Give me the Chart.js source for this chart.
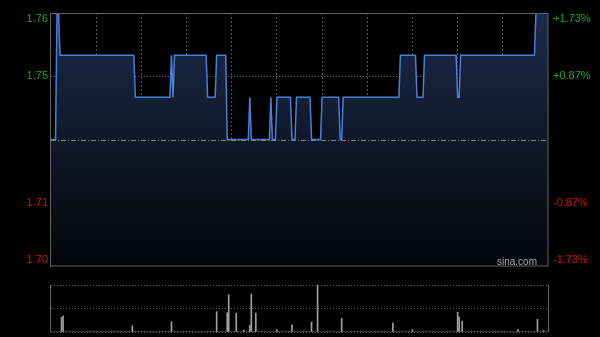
<!DOCTYPE html>
<html>
<head>
<meta charset="utf-8">
<script src="https://cdn.jsdelivr.net/npm/chart.js@4.4.0/dist/chart.umd.min.js"></script>
<style>
  html, body { margin: 0; padding: 0; background: #000; }
  #wrap { position: relative; width: 600px; height: 337px; overflow: hidden; background: #000; }
  #priceChart { position: absolute; left: 0; top: 0; }
  #volChart { position: absolute; left: 0; top: 275px; }
</style>
</head>
<body>
<div id="wrap">
  <canvas id="priceChart" width="600" height="275"></canvas>
  <canvas id="volChart" width="600" height="62"></canvas>
</div>
<script>
// intraday price, one point per minute (9:30-12:00, 13:00-16:00)
const price = [
  1.73,1.73,1.73,1.73,1.76,1.76,
  1.75,1.75,1.75,1.75,1.75,1.75,1.75,1.75,1.75,1.75,
  1.75,1.75,1.75,1.75,1.75,1.75,1.75,1.75,1.75,1.75,
  1.75,1.75,1.75,1.75,1.75,1.75,1.75,1.75,1.75,1.75,
  1.75,1.75,1.75,1.75,1.75,1.75,1.75,1.75,1.75,1.75,
  1.75,1.75,1.75,1.75,1.75,1.75,1.75,1.75,1.75,1.75,
  1.74,1.74,1.74,1.74,1.74,1.74,1.74,1.74,1.74,1.74,
  1.74,1.74,1.74,1.74,1.74,1.74,1.74,1.74,1.74,1.74,
  1.74,1.74,1.74,1.74,1.75,1.74,
  1.75,1.75,1.75,1.75,1.75,1.75,1.75,1.75,1.75,1.75,
  1.75,1.75,1.75,1.75,1.75,1.75,1.75,1.75,1.75,1.75,
  1.75,1.75,1.74,1.74,1.74,1.74,1.74,1.74,
  1.75,1.75,1.75,1.75,1.75,1.75,1.75,
  1.73,1.73,1.73,1.73,1.73,1.73,1.73,1.73,1.73,1.73,
  1.73,1.73,1.73,1.73,1.73,1.74,
  1.73,1.73,1.73,1.73,1.73,1.73,1.73,1.73,1.73,1.73,
  1.73,1.73,1.73,1.74,1.73,1.73,1.73,
  1.74,1.74,1.74,1.74,1.74,1.74,1.74,1.74,1.74,1.74,
  1.73,1.73,1.73,
  1.74,1.74,1.74,1.74,1.74,1.74,1.74,1.74,1.74,1.74,
  1.73,1.73,1.73,1.73,1.73,1.73,1.73,
  1.74,1.74,1.74,1.74,1.74,1.74,1.74,1.74,1.74,1.74,
  1.74,1.74,1.73,1.73,
  1.74,1.74,1.74,1.74,1.74,1.74,1.74,1.74,1.74,1.74,
  1.74,1.74,1.74,1.74,1.74,1.74,1.74,1.74,1.74,1.74,
  1.74,1.74,1.74,1.74,1.74,1.74,1.74,1.74,1.74,1.74,
  1.74,1.74,1.74,1.74,1.74,1.74,1.74,1.74,
  1.75,1.75,1.75,1.75,1.75,1.75,1.75,1.75,1.75,1.75,
  1.75,1.74,1.74,1.74,1.74,1.74,
  1.75,1.75,1.75,1.75,1.75,1.75,1.75,1.75,1.75,1.75,
  1.75,1.75,1.75,1.75,1.75,1.75,1.75,1.75,1.75,1.75,
  1.75,1.75,1.74,1.74,
  1.75,1.75,1.75,1.75,1.75,1.75,1.75,1.75,1.75,1.75,
  1.75,1.75,1.75,1.75,1.75,1.75,1.75,1.75,1.75,1.75,
  1.75,1.75,1.75,1.75,1.75,1.75,1.75,1.75,1.75,1.75,
  1.75,1.75,1.75,1.75,1.75,1.75,1.75,1.75,1.75,1.75,
  1.75,1.75,1.75,1.75,1.75,1.75,1.75,1.75,1.75,1.75,
  1.76,1.76,1.76,1.76,1.76,1.76,1.76,1.76,1.76
];
const prevClose = 1.73;
const yTicks = [1.70, 1.715, 1.73, 1.745, 1.76];
const leftLabels = ['1.70', '1.71', '', '1.75', '1.76'];
const rightLabels = ['-1.73%', '-0.87%', '', '+0.87%', '+1.73%'];
const gridMinutes = [0, 30, 60, 90, 120, 150, 180, 210, 240, 270, 300, 330];

// volume: only the minutes with a visible bar
const volMinute = [7, 8, 54, 80, 110, 117, 118, 123, 128, 132, 133, 136, 150, 160, 173, 177, 193, 227, 240, 270, 271, 273, 310, 323, 327];
const volAmount = [31, 34, 13, 22, 43, 41, 79, 40, 4, 14, 81, 40, 5, 15, 21, 100, 29, 19, 5, 42, 32, 23, 5, 27, 3];

const minutes = price.map((_, i) => i);
const volume = minutes.map(() => 0);
volMinute.forEach((m, k) => { volume[m] = volAmount[k]; });

const FONT = '11px "Liberation Sans", Arial, sans-serif';

const priceDecor = {
  id: 'priceDecor',
  afterDatasetsDraw(chart) {
    const { ctx, chartArea: a, scales: { y } } = chart;
    const py = Math.round(y.getPixelForValue(prevClose)) + 0.5;
    ctx.save();
    ctx.strokeStyle = '#808080';
    ctx.lineWidth = 1;
    ctx.setLineDash([5, 2, 1, 2]);
    ctx.beginPath();
    ctx.moveTo(a.left, py);
    ctx.lineTo(a.right, py);
    ctx.stroke();
    ctx.restore();
  },
  afterDraw(chart) {
    const { ctx, chartArea: a, scales: { y } } = chart;
    ctx.save();
    ctx.strokeStyle = '#626262';
    ctx.lineWidth = 1;
    ctx.strokeRect(Math.round(a.left) - 0.5, Math.round(a.top) + 0.5,
      Math.round(a.right - a.left) + 0.5, Math.round(a.bottom - a.top) - 0.5);
    ctx.font = FONT;
    ctx.textBaseline = 'middle';
    yTicks.forEach((v, i) => {
      let py = y.getPixelForValue(v);
      if (i === 0) py -= 6;
      if (i === yTicks.length - 1) py += 6;
      ctx.fillStyle = v > prevClose ? '#1fa31f' : '#d01414';
      ctx.textAlign = 'right';
      ctx.fillText(leftLabels[i], a.left - 3, py);
      ctx.textAlign = 'left';
      ctx.fillText(rightLabels[i], a.right + 5, py);
    });
    ctx.font = '10px "Liberation Sans", Arial, sans-serif';
    ctx.fillStyle = '#a5a5a5';
    ctx.textAlign = 'right';
    ctx.textBaseline = 'alphabetic';
    ctx.fillText('sina.com', a.right - 11, a.bottom - 1);
    ctx.restore();
  }
};

new Chart(document.getElementById('priceChart'), {
  type: 'line',
  data: {
    labels: minutes,
    datasets: [{
      data: price,
      borderColor: '#4a7fda',
      borderWidth: 1.5,
      pointRadius: 0,
      tension: 0,
      fill: 'start',
      backgroundColor: c => {
        const a = c.chart.chartArea;
        if (!a) return 'rgba(0,0,0,0)';
        const g = c.chart.ctx.createLinearGradient(0, a.top, 0, a.bottom);
        g.addColorStop(0, '#1b2b4a');
        g.addColorStop(1, '#05060a');
        return g;
      }
    }]
  },
  options: {
    responsive: false,
    animation: false,
    events: [],
    layout: { padding: { top: 13, bottom: 9, left: 0, right: 0 } },
    plugins: { legend: { display: false }, tooltip: { enabled: false } },
    scales: {
      x: {
        type: 'linear', min: 0, max: 330, z: 1,
        afterBuildTicks: s => { s.ticks = gridMinutes.map(v => ({ value: v })); },
        ticks: { display: false },
        grid: {
          drawTicks: false,
          color: c => (c.tick && c.tick.value > 0 && c.tick.value < 330) ? '#484848' : 'rgba(0,0,0,0)'
        },
        border: { display: false, dash: [2, 2] },
        afterFit: s => { s.height = 0; }
      },
      y: {
        min: 1.70, max: 1.76, z: 1,
        afterBuildTicks: s => { s.ticks = yTicks.map(v => ({ value: v })); },
        ticks: { display: false },
        grid: {
          drawTicks: false,
          color: c => (c.tick && (c.tick.value === 1.745 || c.tick.value === 1.715)) ? '#666' : 'rgba(0,0,0,0)'
        },
        border: { display: false, dash: [1, 2] },
        afterFit: s => { s.width = 51; }
      },
      y2: {
        position: 'right', min: 1.70, max: 1.76,
        ticks: { display: false },
        grid: { display: false },
        border: { display: false },
        afterFit: s => { s.width = 52; }
      }
    }
  },
  plugins: [priceDecor]
});

const volFrame = {
  id: 'volFrame',
  afterDraw(chart) {
    const { ctx, chartArea: a } = chart;
    ctx.save();
    ctx.strokeStyle = '#626262';
    ctx.lineWidth = 1;
    ctx.beginPath();
    ctx.moveTo(Math.round(a.left) - 0.5, a.top);
    ctx.lineTo(Math.round(a.left) - 0.5, a.bottom);
    ctx.moveTo(Math.round(a.right) + 0.5, a.top);
    ctx.lineTo(Math.round(a.right) + 0.5, a.bottom);
    ctx.stroke();
    ctx.restore();
  }
};

new Chart(document.getElementById('volChart'), {
  type: 'bar',
  data: {
    labels: minutes,
    datasets: [{ data: volume, backgroundColor: '#a0a0a0', barThickness: 1, borderWidth: 0 }]
  },
  options: {
    responsive: false,
    animation: false,
    events: [],
    layout: { padding: { top: 10, bottom: 5, left: 0, right: 0 } },
    plugins: { legend: { display: false }, tooltip: { enabled: false } },
    scales: {
      x: { type: 'linear', min: 0, max: 330, offset: false, display: false },
      y: {
        min: 0, max: 100,
        afterBuildTicks: s => { s.ticks = [0, 50, 100].map(v => ({ value: v })); },
        ticks: { display: false },
        grid: { drawTicks: false, color: '#5a5a5a' },
        border: { display: false, dash: [1, 2] },
        afterFit: s => { s.width = 51; }
      },
      y2: {
        position: 'right', min: 0, max: 100,
        ticks: { display: false },
        grid: { display: false },
        border: { display: false },
        afterFit: s => { s.width = 52; }
      }
    }
  },
  plugins: [volFrame]
});
</script>
</body>
</html>
